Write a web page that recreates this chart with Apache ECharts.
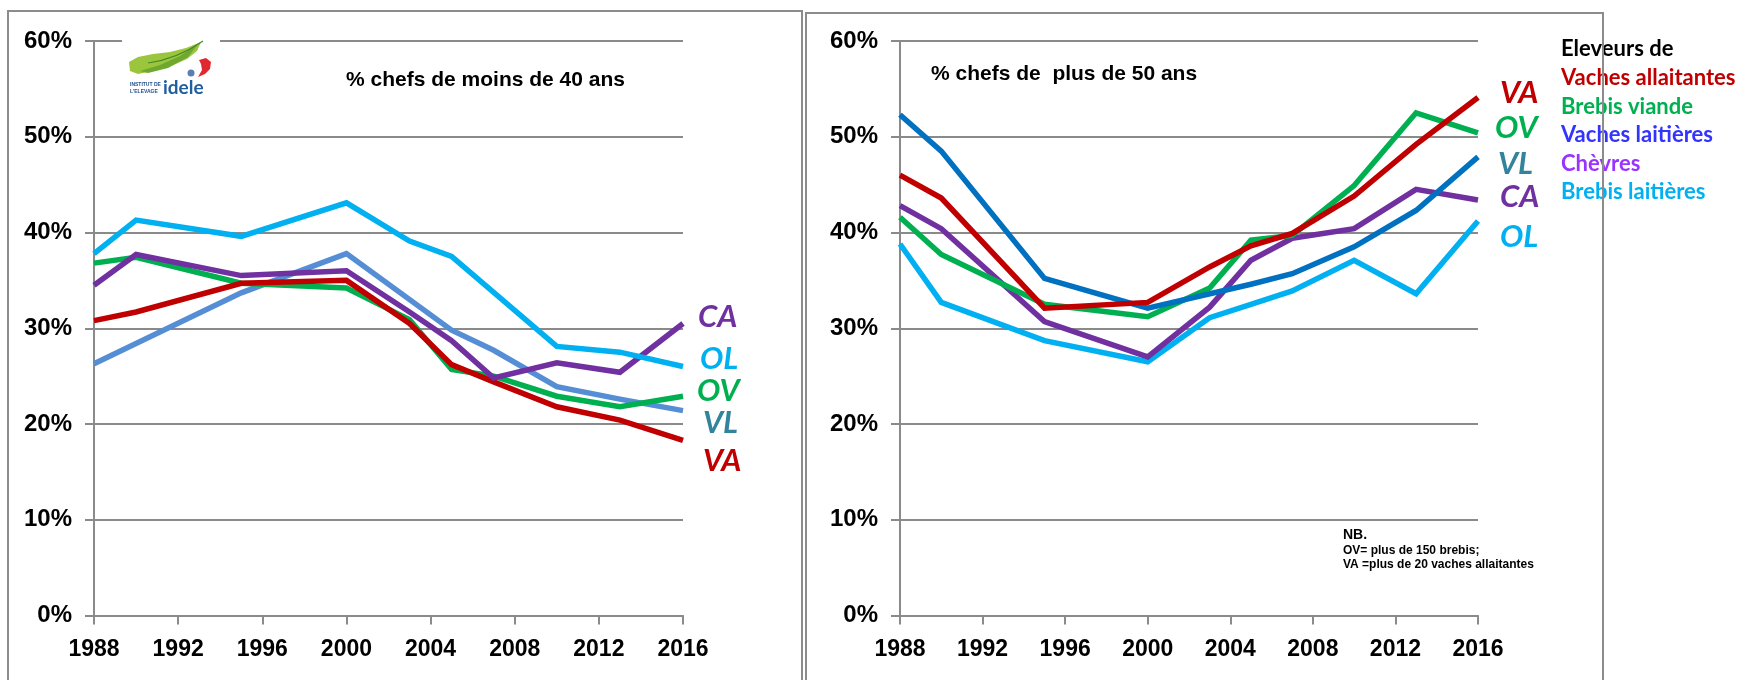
<!DOCTYPE html>
<html><head><meta charset="utf-8">
<script src="https://cdn.jsdelivr.net/npm/echarts@6/dist/echarts.min.js"></script>
<style>html,body{margin:0;padding:0;background:#fff}#c{width:1742px;height:680px}</style>
</head><body><div id="c"></div>
<script>
// ---- Data (percent) ----
const yTicks = [0, 10, 20, 30, 40, 50, 60];
const xTicks = [1988, 1992, 1996, 2000, 2004, 2008, 2012, 2016];

// Left: % chefs de moins de 40 ans
const yearsYoung = [1988, 1990, 1995, 2000, 2003, 2005, 2007, 2010, 2013, 2016];
const vaYoung = [30.8, 31.7, 34.7, 35.0, 30.5, 26.2, 24.4, 21.8, 20.4, 18.3];
const ovYoung = [36.8, 37.4, 34.7, 34.2, 30.9, 25.7, 25.0, 22.9, 21.8, 22.9];
const caYoung = [34.5, 37.7, 35.5, 36.0, 31.7, 28.7, 24.8, 26.4, 25.4, 30.5];
const olYearsYoung = [1988, 1990, 1995, 2000, 2003, 2005, 2010, 2013, 2016];
const olYoung = [37.8, 41.3, 39.6, 43.1, 39.1, 37.5, 28.1, 27.5, 26.0];
const vlYearsYoung = [1988, 1995, 2000, 2005, 2007, 2010, 2013, 2016];
const vlYoung = [26.3, 33.7, 37.8, 29.8, 27.7, 23.9, 22.6, 21.4];

// Right: % chefs de plus de 50 ans
const yearsOld = [1988, 1990, 1995, 2000, 2003, 2005, 2007, 2010, 2013, 2016];
const vaOld = [46.0, 43.6, 32.1, 32.7, 36.4, 38.6, 39.9, 43.8, 49.2, 54.1];
const ovOld = [41.6, 37.7, 32.5, 31.2, 34.2, 39.2, 39.7, 44.9, 52.5, 50.4];
const caOld = [42.8, 40.4, 30.7, 27.0, 32.2, 37.1, 39.4, 40.4, 44.5, 43.4];
const olOld = [38.8, 32.7, 28.7, 26.5, 31.1, 32.5, 33.9, 37.1, 33.6, 41.2];
const vlYearsOld = [1988, 1990, 1995, 2000, 2005, 2007, 2010, 2013, 2016];
const vlOld = [52.3, 48.5, 35.2, 32.1, 34.6, 35.7, 38.5, 42.3, 47.9];

const legendTitle = 'Eleveurs de';
const legendItems = ['Vaches allaitantes', 'Brebis viande', 'Vaches laitières', 'Chèvres', 'Brebis laitières'];
const titleLeft = '% chefs de moins de 40 ans';
const titleRight = '% chefs de  plus de 50 ans';
const noteLines = ['NB.', 'OV= plus de 150 brebis;', 'VA =plus de 20 vaches allaitantes'];

// ---- Styles ----
const C = { VA: '#C00000', OV: '#00B050', CA: '#7030A0', OL: '#00B0F0', VLl: '#558ED5', VLr: '#0070C0', VLlab: '#31849B' };
const legendColors = ['#C00000', '#00B050', '#3333FF', '#9933FF', '#00B0F0'];
const legendY = [78, 107, 135, 164, 192];
const gridGray = '#8a8a8a';
const tickFont = { fontFamily: 'Liberation Sans, Arial, sans-serif', fontWeight: 'bold', color: '#000' };

function zip(xs, ys) { return xs.map((x, i) => [x, ys[i]]); }

function line(name, gi, xs, ys, color, labColor, dx, dy, z) {
  return {
    type: 'line', name, xAxisIndex: gi, yAxisIndex: gi,
    data: zip(xs, ys), symbol: 'none', z: z,
    lineStyle: { color, width: 5.5, join: 'miter' },
    itemStyle: { color },
    endLabel: {
      show: true, formatter: name, distance: dx, offset: [0, dy],
      color: labColor, fontFamily: 'Lato, sans-serif', fontWeight: 'bold', fontStyle: 'italic', fontSize: 31
    }
  };
}

function xAx(gi) {
  return {
    type: 'value', gridIndex: gi, min: 1988, max: 2016, interval: 4,
    axisLine: { show: true, lineStyle: { color: gridGray, width: 2 } },
    axisTick: { show: true, length: 9, lineStyle: { color: gridGray, width: 2 } },
    axisLabel: Object.assign({ margin: 23, fontSize: 23, formatter: v => String(v) }, tickFont),
    splitLine: { show: false }
  };
}
function yAx(gi) {
  return {
    type: 'value', gridIndex: gi, min: 0, max: 60, interval: 10,
    axisLine: { show: true, lineStyle: { color: gridGray, width: 2 } },
    axisTick: { show: true, length: 9, lineStyle: { color: gridGray, width: 2 } },
    axisLabel: Object.assign({ margin: 22, fontSize: 24, formatter: '{value}%' }, tickFont),
    splitLine: { show: true, lineStyle: { color: gridGray, width: 2 } }
  };
}

const chart = echarts.init(document.getElementById('c'), null, { renderer: 'canvas' });

const legendGraphics = [{
  type: 'text', x: 1561, y: 49, z: 100,
  style: { text: legendTitle, fill: '#000', font: 'bold 22px Lato, sans-serif', textVerticalAlign: 'middle' }
}].concat(legendItems.map((t, i) => ({
  type: 'text', x: 1561, y: legendY[i], z: 100,
  style: { text: t, fill: legendColors[i], font: 'bold 22px Lato, sans-serif', textVerticalAlign: 'middle' }
})));

const noteGraphics = noteLines.map((t, i) => ({
  type: 'text', x: 1343, y: [535, 551, 565][i], z: 100,
  style: { text: t, fill: '#000', font: i === 0 ? 'bold 14px Liberation Sans, Arial, sans-serif' : 'bold 12px Liberation Sans, Arial, sans-serif', textVerticalAlign: 'middle' }
}));

chart.setOption({
  animation: false,
  backgroundColor: '#fff',
  grid: [
    { left: 94, top: 41, width: 589, height: 574.5 },
    { left: 900, top: 41, width: 578, height: 574.5 }
  ],
  xAxis: [xAx(0), xAx(1)],
  yAxis: [yAx(0), yAx(1)],
  series: [
    line('VL', 0, vlYearsYoung, vlYoung, C.VLl, C.VLlab, 20, 12, 3),
    line('VA', 0, yearsYoung, vaYoung, C.VA, C.VA, 20, 21, 4),
    line('OV', 0, yearsYoung, ovYoung, C.OV, C.OV, 14, -5, 3),
    line('CA', 0, yearsYoung, caYoung, C.CA, C.CA, 15, -6, 5),
    line('OL', 0, olYearsYoung, olYoung, C.OL, C.OL, 17, -8, 6),

    line('OL', 1, yearsOld, olOld, C.OL, C.OL, 22, 16, 3),
    line('CA', 1, yearsOld, caOld, C.CA, C.CA, 22, -3, 4),
    line('OV', 1, yearsOld, ovOld, C.OV, C.OV, 17, -5, 4),
    line('VL', 1, vlYearsOld, vlOld, C.VLr, C.VLlab, 20, 7, 5),
    line('VA', 1, yearsOld, vaOld, C.VA, C.VA, 22, -4, 6)
  ],
  graphic: [
    // panel frames
    { type: 'rect', shape: { x: 8, y: 11, width: 794, height: 700 }, style: { fill: null, stroke: '#8c8c8c', lineWidth: 2 }, z: -1 },
    { type: 'rect', shape: { x: 806, y: 13, width: 797, height: 700 }, style: { fill: null, stroke: '#8c8c8c', lineWidth: 2 }, z: 120 },
    // titles
    { type: 'text', x: 346, y: 80, z: 100, style: { text: titleLeft, fill: '#000', font: 'bold 21px Liberation Sans, Arial, sans-serif', textVerticalAlign: 'middle' } },
    { type: 'text', x: 931, y: 74, z: 100, style: { text: titleRight, fill: '#000', font: 'bold 21px Liberation Sans, Arial, sans-serif', textVerticalAlign: 'middle' } },
    // logo
    { type: 'rect', z: 50, shape: { x: 122, y: 36, width: 98, height: 66 }, style: { fill: '#fff' } },
    { type: 'polygon', z: 51, shape: { points: [[129, 62], [138, 57], [153, 54], [170, 52], [186, 48], [201, 42], [197, 51], [187, 59], [171, 66], [153, 71], [138, 74], [130, 71]] }, style: { fill: '#9BC53D' } },
    { type: 'polygon', z: 51, shape: { points: [[140, 71], [160, 65], [180, 56], [199, 43], [188, 57], [168, 68], [148, 73]] }, style: { fill: '#6FA82F' } },
    { type: 'bezierCurve', z: 52, shape: { x1: 148, y1: 63, x2: 203, y2: 41, cpx1: 170, cpy1: 60, cpx2: 190, cpy2: 50 }, style: { fill: null, stroke: '#3F8A2A', lineWidth: 1.2 } },
    { type: 'polygon', z: 51, shape: { points: [[199, 60], [206, 58], [211, 62], [210, 69], [205, 74], [198, 77], [202, 70], [201, 64]] }, style: { fill: '#E02830' } },
    { type: 'circle', z: 51, shape: { cx: 191, cy: 73, r: 3.5 }, style: { fill: '#5A7FB5' } },
    { type: 'text', z: 52, x: 130, y: 85, style: { text: 'INSTITUT DE', fill: '#1F4E8C', font: 'bold 5px Liberation Sans, Arial, sans-serif', textVerticalAlign: 'middle' } },
    { type: 'text', z: 52, x: 130, y: 92, style: { text: "L'ELEVAGE", fill: '#1F4E8C', font: 'bold 5px Liberation Sans, Arial, sans-serif', textVerticalAlign: 'middle' } },
    { type: 'text', z: 52, x: 163, y: 88, style: { text: 'idele', fill: '#1F5FA0', font: 'bold 19px Lato, sans-serif', textVerticalAlign: 'middle' } }
  ].concat(legendGraphics, noteGraphics)
});
</script>
</body></html>
